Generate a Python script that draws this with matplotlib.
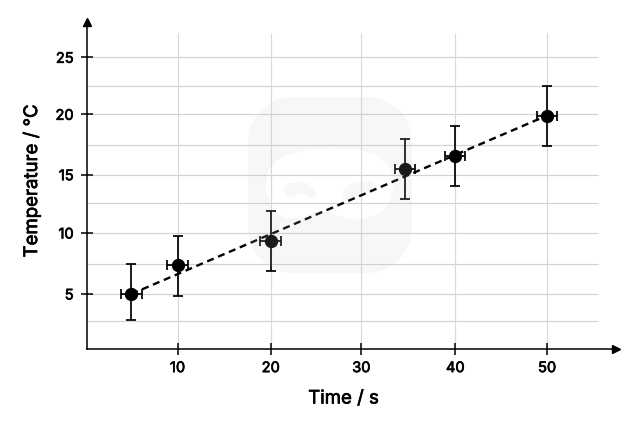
import numpy as np
import matplotlib
matplotlib.use("Agg")
import matplotlib.pyplot as plt
import matplotlib.patheffects as pe
from matplotlib.path import Path
from matplotlib.patches import PathPatch
from matplotlib.transforms import Affine2D

plt.rcParams['font.family'] = ['Inter', 'DejaVu Sans']

time_s = [5, 10, 20, 34.65, 40, 50]
temperature_c = [5.0, 7.4, 9.4, 15.5, 16.6, 19.9]
time_err = [1.15, 1.1, 1.1, 1.1, 1.1, 1.1]
temp_err_low = [2.45, 2.59, 2.47, 2.62, 2.56, 2.48]
temp_err_high = [2.53, 2.36, 2.45, 2.5, 2.48, 2.6]
trend_x = [5, 50]
trend_y = [5, 19.9]
x_ticks = [10, 20, 30, 40, 50]
y_ticks = [5, 10, 15, 20, 25]
y_minor = [2.5, 7.5, 12.5, 17.5, 22.5]

W, H = 630, 422

# hand-spaced axis rulings: knots tie axis values to pixel rows and columns
x_knot_val = [0, 10, 20, 30, 40, 50, 60]
x_knot_px = [85.0, 177.5, 270.7, 361.3, 455.3, 547.0, 639.5]
y_knot_val = [0, 2.5, 5, 7.5, 10, 12.5, 15, 17.5, 20, 22.5, 25, 27.5, 30]
y_knot_px = [350.3, 321.0, 294.0, 264.3, 233.0, 203.3, 174.7, 145.3, 114.3, 86.0, 57.3, 28.0, -1.0]


def x_value(p):
    return np.interp(p, x_knot_px, x_knot_val)


def y_value(p):
    return np.interp(p, y_knot_px[::-1], y_knot_val[::-1])


def x_forward(v):
    return np.interp(v, x_knot_val, x_knot_px)


def y_forward(v):
    return -np.interp(v, y_knot_val, y_knot_px)


def y_inverse(u):
    return y_value(-np.asarray(u))


fig = plt.figure(figsize=(W / 100, H / 100), dpi=100)

# axes box runs from the origin corner to the bases of the arrow heads
L, R, T, B = 86.7, 616.0, 22.0, 349.3
ax = fig.add_axes([L / W, 1 - B / H, (R - L) / W, (B - T) / H])
ax.set_xscale('function', functions=(x_forward, x_value))
ax.set_yscale('function', functions=(y_forward, y_inverse))
ax.set_xlim(x_value(L), x_value(R))
ax.set_ylim(y_value(B), y_value(T))

for s in ('top', 'right'):
    ax.spines[s].set_visible(False)
for s in ('left', 'bottom'):
    ax.spines[s].set_linewidth(1.1)
    ax.spines[s].set_color('black')

# grid stops short of the arrow heads
grid_x_end = x_value(598)
grid_y_end = y_value(33)
ax.hlines(y_ticks + y_minor, x_value(L), grid_x_end, color='#d2d2d2', lw=0.85, zorder=1)
ax.vlines(x_ticks, y_value(B), grid_y_end, color='#d8d8d8', lw=0.85, zorder=1)

ax.plot(trend_x, trend_y, color='black', lw=1.7, ls=(0, (3.0, 2.0)), zorder=3)
ax.errorbar(time_s, temperature_c, xerr=time_err,
            yerr=[temp_err_low, temp_err_high], fmt='none',
            ecolor='black', elinewidth=1.25, capsize=3.8, capthick=1.25, zorder=4)
ax.plot(time_s, temperature_c, 'o', color='black', ms=9.6, mew=0, zorder=5)

medium = [pe.withStroke(linewidth=0.5, foreground='black')]

ax.set_xticks(x_ticks)
ax.set_yticks(y_ticks)
ax.tick_params(axis='both', direction='inout', length=8, width=1.1,
               labelsize=10.5, colors='black')
ax.tick_params(axis='x', pad=4.5)
ax.tick_params(axis='y', pad=5.5)
for lab in ax.get_xticklabels() + ax.get_yticklabels():
    lab.set_path_effects(medium)

# arrow heads at the ends of both axes
ax.plot(1, 0, '>', transform=ax.transAxes, color='black', ms=5.8, clip_on=False, zorder=6)
ax.plot(0, 1, '^', transform=ax.transAxes, color='black', ms=5.8, clip_on=False, zorder=6)

fig.text(343.5 / W, 1 - 399 / H, 'Time / s', ha='center', va='center',
         fontsize=13.4, path_effects=medium)
fig.text(32 / W, 1 - 181 / H, 'Temperature / °C', ha='center', va='center',
         rotation=90, fontsize=13.4, path_effects=medium)


def rounded_square(x0, y0, x1, y1, r, n=16):
    a = np.linspace(0, np.pi / 2, n)
    pts = []
    for cx, cy, start in [(x1 - r, y0 + r, -np.pi / 2), (x1 - r, y1 - r, 0),
                          (x0 + r, y1 - r, np.pi / 2), (x0 + r, y0 + r, np.pi)]:
        pts.append(np.c_[cx + r * np.cos(start + a), cy + r * np.sin(start + a)])
    return np.vstack(pts)


def closed(points):
    verts = np.vstack([points, points[:1]])
    codes = [Path.MOVETO] + [Path.LINETO] * (len(points) - 1) + [Path.CLOSEPOLY]
    return verts, codes


# faint badge drawn over the plot, in pixel coordinates measured from the top left
outer = rounded_square(248, 97, 412, 273, 45)
face = np.array([(265, 187), (268, 170), (282, 157), (305, 150), (330, 148), (355, 149),
                 (378, 155), (390, 168), (394, 185), (390, 203), (378, 214), (360, 220),
                 (345, 218), (330, 212), (315, 212), (300, 218), (285, 218), (272, 208)])
eye_l = np.array([(283, 189), (287, 184), (295, 182), (306, 183), (314, 188), (317, 194),
                  (314, 198), (308, 197), (300, 193), (293, 196), (287, 197)])
eye_r = np.array([(342, 193), (346, 187), (354, 183), (364, 181), (374, 182), (372, 189),
                  (363, 192), (356, 197), (348, 200), (343, 198)])

parts = [closed(outer), closed(face[::-1]), closed(eye_l), closed(eye_r)]
verts = np.vstack([v for v, _ in parts])
codes = sum((c for _, c in parts), [])
to_fig = Affine2D().scale(1, -1).translate(0, H)
badge = PathPatch(Path(verts, codes), facecolor='#c8c8c8', edgecolor='none',
                  alpha=0.13, transform=to_fig, zorder=10)
fig.add_artist(badge)

fig.savefig('out.png', dpi=100)
